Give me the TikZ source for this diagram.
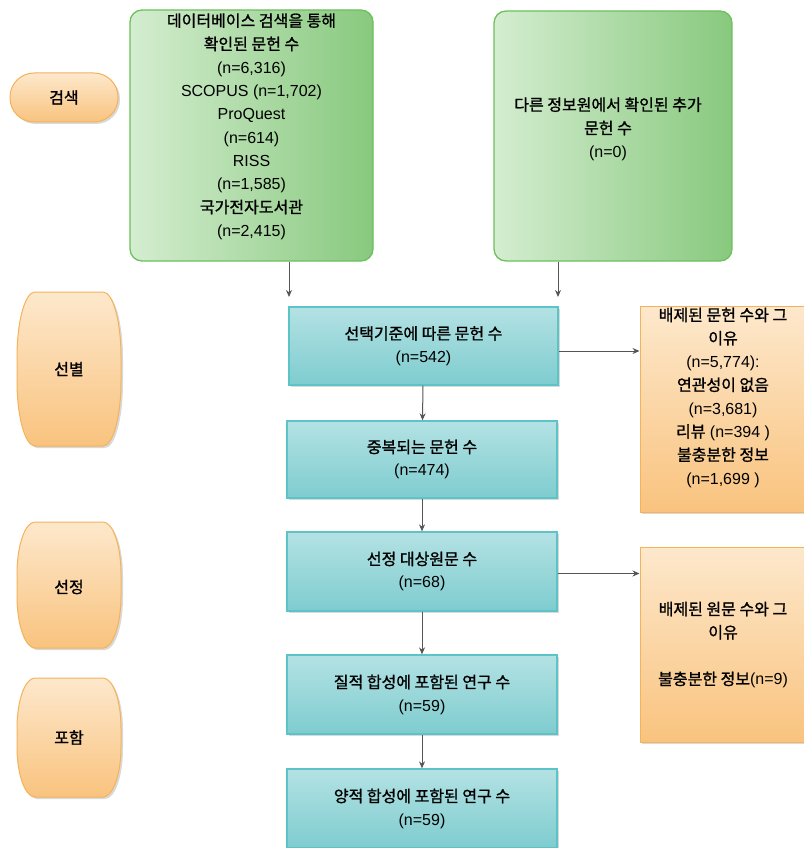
\documentclass[tikz,border=0pt]{standalone}
\usepackage{fontspec}
\setmainfont{Liberation Sans}
\newfontfamily\kr[FakeBold=1.2]{Noto Sans CJK KR}
\usetikzlibrary{shadows,arrows.meta}
\definecolor{gL}{HTML}{D4EDD0}
\definecolor{gR}{HTML}{88C97E}
\definecolor{gBd}{HTML}{6CC05E}
\definecolor{tT}{HTML}{B4E2E4}
\definecolor{tB}{HTML}{7ECCCF}
\definecolor{tBd}{HTML}{5CC3C7}
\definecolor{oT}{HTML}{FDE8CC}
\definecolor{oB}{HTML}{F9C37E}
\definecolor{oBd}{HTML}{F4B35A}
\definecolor{arr}{HTML}{555555}
\tikzset{
  txt/.style={align=center, font=\fontsize{16}{23.3}\selectfont, inner sep=0pt, text=black},
  greenbox/.style={draw=gBd, line width=1.3pt, rounded corners=12pt, left color=gL, right color=gR},
  tealbox/.style={draw=tBd, line width=1.3pt, top color=tT, bottom color=tB,
    drop shadow={shadow xshift=2pt, shadow yshift=-2pt, opacity=0.3},
    align=center, font=\fontsize{16}{23}\selectfont, minimum width=270pt, minimum height=78pt, inner sep=0pt},
  orangebox/.style={draw=oBd, line width=1pt, top color=oT, bottom color=oB,
    drop shadow={shadow xshift=2pt, shadow yshift=-2pt, opacity=0.3}},
  flow/.style={draw=arr, line width=1pt, -{Stealth[length=7pt,width=6pt]}},
}
\begin{document}
\begin{tikzpicture}[x=1pt,y=-1pt]
\useasboundingbox (0,0) rectangle (803,848);
% stage labels
\node[orangebox, rounded corners=24pt, minimum width=108pt, minimum height=49pt, txt] (s0) at (64,97.5) {\kr 검색};
\path[orangebox] (35,292) -- (103,292) arc[start angle=90,end angle=0,x radius=18pt,y radius=65pt] -- (121,381) arc[start angle=0,end angle=-90,x radius=18pt,y radius=65pt] -- (35,446) arc[start angle=270,end angle=180,x radius=18pt,y radius=65pt] -- (17,357) arc[start angle=180,end angle=90,x radius=18pt,y radius=65pt] -- cycle;
\node[txt] (s1) at (69,369) {\kr 선별};
\path[orangebox] (35,522) -- (103,522) arc[start angle=90,end angle=0,x radius=18pt,y radius=52pt] -- (121,596) arc[start angle=0,end angle=-90,x radius=18pt,y radius=52pt] -- (35,648) arc[start angle=270,end angle=180,x radius=18pt,y radius=52pt] -- (17,574) arc[start angle=180,end angle=90,x radius=18pt,y radius=52pt] -- cycle;
\node[txt] (s2) at (69,587) {\kr 선정};
\path[orangebox] (35,678) -- (103,678) arc[start angle=90,end angle=0,x radius=18pt,y radius=50pt] -- (121,747) arc[start angle=0,end angle=-90,x radius=18pt,y radius=50pt] -- (35,797) arc[start angle=270,end angle=180,x radius=18pt,y radius=50pt] -- (17,728) arc[start angle=180,end angle=90,x radius=18pt,y radius=50pt] -- cycle;
\node[txt] (s3) at (69,737.5) {\kr 포함};
% green boxes
\node[greenbox, minimum width=243pt, minimum height=251pt] (g1) at (251.5,135.5) {};
\node[txt] (g1t) at (251.5,126.5) {{\kr 데이터베이스 검색을 통해}\\{\kr 확인된 문헌 수}\\(n=6,316)\\SCOPUS (n=1,702)\\ProQuest\\(n=614)\\RISS\\(n=1,585)\\{\kr 국가전자도서관}\\(n=2,415)};
\node[greenbox, minimum width=238pt, minimum height=250pt] (g2) at (613,136) {};
\node[txt] (g2t) at (608,129) {{\kr 다른 정보원에서 확인된 추가}\\{\kr 문헌 수}\\(n=0)};
\coordinate (g1a) at (289,297);
\coordinate (g2a) at (558,297);
\draw[flow] (g1.south -| g1a) -- (g1a);
\draw[flow] (g2.south -| g2a) -- (g2a);
% teal boxes
\node[tealbox, minimum width=269pt] (t1) at (423.5,346) {{\kr 선택기준에 따른 문헌 수}\\(n=542)};
\node[tealbox, minimum height=77pt] (t2) at (422,459.5) {{\kr 중복되는 문헌 수}\\(n=474)};
\node[tealbox, minimum height=79pt] (t3) at (422,571.5) {{\kr 선정 대상원문 수}\\(n=68)};
\node[tealbox, minimum height=79pt] (t4) at (422,694.5) {{\kr 질적 합성에 포함된 연구 수}\\(n=59)};
\node[tealbox, minimum height=79pt] (t5) at (422,808.5) {{\kr 양적 합성에 포함된 연구 수}\\(n=59)};
\draw[flow] (t1) -- (t2);
\draw[flow] (t2) -- (t3);
\draw[flow] (t3) -- (t4);
\draw[flow] (t4) -- (t5);
% orange boxes
\node[orangebox, minimum width=166pt, minimum height=206pt] (o1) at (723,409) {};
\node[txt] (o1t) at (723,397.5) {{\kr 배제된 문헌 수와 그}\\{\kr 이유}\\(n=5,774):\\{\kr 연관성이 없음}\\(n=3,681)\\{\kr 리뷰} (n=394 )\\{\kr 불충분한 정보}\\(n=1,699 )};
\node[orangebox, minimum width=166pt, minimum height=195pt] (o2) at (723,644.5) {};
\node[txt] (o2t) at (723,645) {{\kr 배제된 원문 수와 그}\\{\kr 이유}\\[23.3pt]{\kr 불충분한 정보}(n=9)};
\coordinate (a1) at ([yshift=-5pt]t1.east);
\coordinate (a2) at ([yshift=-2pt]t3.east);
\draw[flow] (a1) -- (a1 -| o1.west);
\draw[flow] (a2) -- (a2 -| o2.west);
\end{tikzpicture}
\end{document}
